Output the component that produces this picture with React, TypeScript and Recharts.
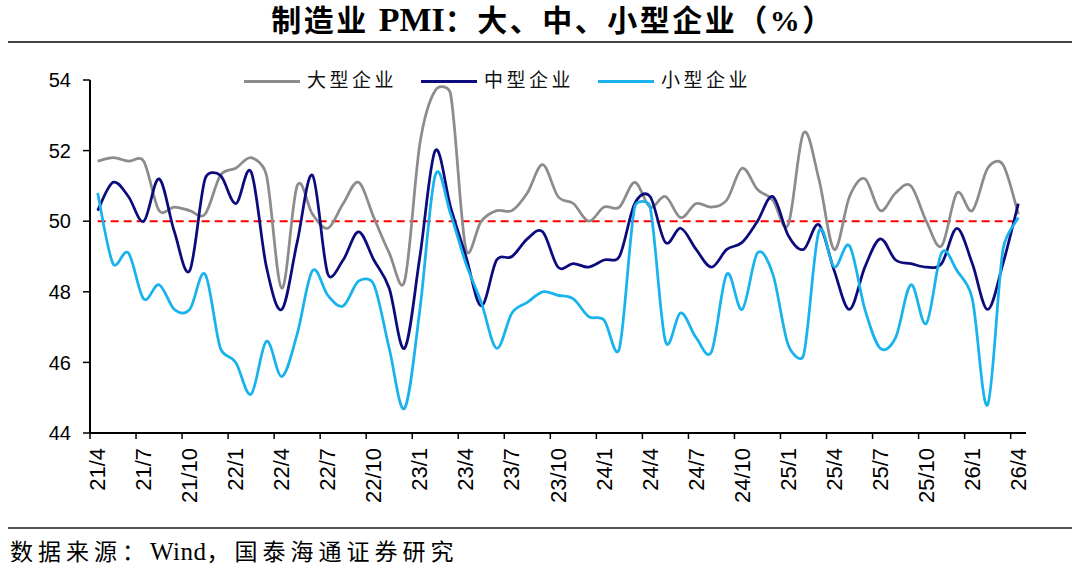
import React from "react";
import { LineChart, Line, XAxis, YAxis, ReferenceLine } from "recharts";

// 月份 21/4 ~ 26/4
const months = [
  "21/4", "21/5", "21/6", "21/7", "21/8", "21/9", "21/10", "21/11", "21/12",
  "22/1", "22/2", "22/3", "22/4", "22/5", "22/6", "22/7", "22/8", "22/9", "22/10", "22/11", "22/12",
  "23/1", "23/2", "23/3", "23/4", "23/5", "23/6", "23/7", "23/8", "23/9", "23/10", "23/11", "23/12",
  "24/1", "24/2", "24/3", "24/4", "24/5", "24/6", "24/7", "24/8", "24/9", "24/10", "24/11", "24/12",
  "25/1", "25/2", "25/3", "25/4", "25/5", "25/6", "25/7", "25/8", "25/9", "25/10", "25/11", "25/12",
  "26/1", "26/2", "26/3", "26/4",
];

const large = [
  51.7, 51.8, 51.7, 51.7, 50.3, 50.4, 50.3, 50.2, 51.3,
  51.5, 51.8, 51.3, 48.1, 51.0, 50.2, 49.8, 50.5, 51.1, 50.1, 49.1, 48.3,
  52.2, 53.7, 53.6, 49.2, 50.0, 50.3, 50.3, 50.8, 51.6, 50.7, 50.5, 50.0,
  50.4, 50.4, 51.1, 50.4, 50.7, 50.1, 50.5, 50.4, 50.6, 51.5, 50.9, 50.6,
  49.9, 52.5, 51.2, 49.2, 50.7, 51.2, 50.3, 50.8, 51.0, 50.0, 49.3, 50.8,
  50.3, 51.5, 51.6, 50.2,
];

const medium = [
  50.3, 51.1, 50.7, 50.0, 51.2, 49.7, 48.6, 51.2, 51.3,
  50.5, 51.4, 48.7, 47.5, 49.4, 51.3, 48.5, 48.9, 49.7, 48.9, 48.1, 46.4,
  49.0, 52.0, 50.4, 49.0, 47.6, 48.9, 49.0, 49.5, 49.7, 48.7, 48.8, 48.7,
  48.9, 49.0, 50.5, 50.7, 49.4, 49.8, 49.2, 48.7, 49.2, 49.4, 50.0, 50.7,
  49.6, 49.2, 49.9, 48.6, 47.5, 48.7, 49.5, 48.9, 48.8, 48.7, 48.8, 49.8,
  48.8, 47.5, 48.8, 50.5,
];

const small = [
  50.8, 48.8, 49.1, 47.8, 48.2, 47.5, 47.5, 48.5, 46.4,
  46.0, 45.1, 46.6, 45.6, 46.8, 48.6, 47.9, 47.6, 48.3, 48.2, 46.4, 44.7,
  47.5, 51.3, 50.2, 48.8, 47.7, 46.4, 47.4, 47.7, 48.0, 47.9, 47.8, 47.3,
  47.2, 46.4, 50.4, 50.4, 46.6, 47.4, 46.7, 46.3, 48.5, 47.5, 49.1, 48.5,
  46.5, 46.2, 49.7, 48.7, 49.3, 47.5, 46.4, 46.7, 48.2, 47.1, 49.1, 48.6,
  47.8, 44.8, 49.2, 50.1,
];

const yTicks = [44, 46, 48, 50, 52, 54];

const series = [
  { key: "large", name: "大型企业", color: "#8c8c8c" },
  { key: "medium", name: "中型企业", color: "#0b0b7d" },
  { key: "small", name: "小型企业", color: "#18b2ec" },
];

const data = months.map((m, i) => ({
  month: m,
  large: large[i],
  medium: medium[i],
  small: small[i],
}));

const W = 1080;
const H = 572;
const PLOT_LEFT = 90;
const PLOT_RIGHT = 1026;
const PLOT_TOP = 80;
const PLOT_BOTTOM = 433;
const STEP = (PLOT_RIGHT - PLOT_LEFT) / months.length;
const HALF = STEP / 2;

const CJK = "'Liberation Serif', 'Noto Sans CJK SC', serif";
const SANS = "'Liberation Sans', Arial, sans-serif";

// Excel 风格平滑线：控制柄长度不超过半段长度
const smoothCurve = (context: any) => {
  let pts: number[][] = [];
  const handle = (a: number[], b: number[], limit: number) => {
    let dx = (b[0] - a[0]) / 6;
    let dy = (b[1] - a[1]) / 6;
    const len = Math.hypot(dx, dy);
    if (len > limit && len > 0) {
      dx *= limit / len;
      dy *= limit / len;
    }
    return [dx, dy];
  };
  return {
    areaStart() {},
    areaEnd() {},
    lineStart() {
      pts = [];
    },
    point(x: number, y: number) {
      pts.push([+x, +y]);
    },
    lineEnd() {
      if (!pts.length) return;
      context.moveTo(pts[0][0], pts[0][1]);
      for (let i = 0; i < pts.length - 1; i++) {
        const p0 = pts[Math.max(i - 1, 0)];
        const p1 = pts[i];
        const p2 = pts[i + 1];
        const p3 = pts[Math.min(i + 2, pts.length - 1)];
        const half = Math.hypot(p2[0] - p1[0], p2[1] - p1[1]) / 2;
        const h1 = handle(p0, p2, half);
        const h2 = handle(p1, p3, half);
        context.bezierCurveTo(p1[0] + h1[0], p1[1] + h1[1], p2[0] - h2[0], p2[1] - h2[1], p2[0], p2[1]);
      }
    },
  };
};

const MonthTick = (props: any) => {
  const { x, y, payload } = props;
  return (
    <g>
      <line x1={x - HALF} x2={x - HALF} y1={y - 15} y2={y - 9} stroke="#000" strokeWidth={1.5} />
      <text
        x={x}
        y={y}
        transform={`rotate(-90 ${x} ${y})`}
        textAnchor="end"
        dominantBaseline="central"
        fontSize={22}
        fontFamily={SANS}
        fill="#000"
      >
        {payload.value}
      </text>
    </g>
  );
};

export default function App() {
  return (
    <div style={{ position: "absolute", left: 0, top: 0, width: W, height: H, background: "#fff", overflow: "hidden" }}>
      <div
        style={{
          position: "absolute",
          top: 3,
          left: 13,
          width: W,
          textAlign: "center",
          fontFamily: CJK,
          fontWeight: "bold",
          fontSize: 30,
          lineHeight: "34px",
          letterSpacing: 2.5,
          color: "#000",
        }}
      >
        制造业 <span style={{ fontSize: 34, letterSpacing: 0 }}>PMI</span>：大、中、小型企业（%）
      </div>
      <div style={{ position: "absolute", top: 41, left: 8, width: 1064, height: 2, background: "#444" }} />

      <LineChart
        width={W}
        height={H}
        data={data}
        margin={{ top: PLOT_TOP, right: W - PLOT_RIGHT, bottom: 0, left: 0 }}
        style={{ position: "absolute", left: 0, top: 0 }}
      >
        <XAxis
          dataKey="month"
          interval={2}
          height={H - PLOT_BOTTOM}
          padding={{ left: HALF, right: HALF }}
          tickLine={false}
          tickSize={6}
          tickMargin={9}
          axisLine={{ stroke: "#000", strokeWidth: 2 }}
          tick={<MonthTick />}
        />
        <YAxis
          width={PLOT_LEFT}
          domain={[44, 54]}
          ticks={yTicks}
          interval={0}
          tickSize={7}
          tickMargin={12}
          axisLine={{ stroke: "#000", strokeWidth: 2 }}
          tickLine={{ stroke: "#000", strokeWidth: 1.5 }}
          tick={{ fontSize: 20, fontFamily: SANS, fill: "#000" }}
        />
        <ReferenceLine
          segment={[
            { x: months[0], y: 50 },
            { x: months[months.length - 1], y: 50 },
          ]}
          stroke="#ff0000"
          strokeWidth={2}
          strokeDasharray="8 5"
        />
        {series.map((s) => (
          <Line
            key={s.key}
            dataKey={s.key}
            name={s.name}
            type={smoothCurve as any}
            stroke={s.color}
            strokeWidth={2.75}
            dot={false}
            activeDot={false}
            isAnimationActive={false}
          />
        ))}
      </LineChart>

      <div style={{ position: "absolute", top: 68, left: 244, display: "flex", alignItems: "center", gap: 24 }}>
        {series.map((s) => (
          <div key={s.key} style={{ display: "flex", alignItems: "center", gap: 7 }}>
            <div style={{ width: 56, height: 3, background: s.color }} />
            <span style={{ fontFamily: CJK, fontSize: 19, letterSpacing: 3.5, lineHeight: "26px", color: "#111" }}>
              {s.name}
            </span>
          </div>
        ))}
      </div>

      <div style={{ position: "absolute", top: 527, left: 8, width: 1064, height: 1.5, background: "#555" }} />
      <div
        style={{
          position: "absolute",
          top: 538,
          left: 10,
          fontFamily: CJK,
          fontSize: 23,
          lineHeight: "28px",
          letterSpacing: 5,
          color: "#000",
          whiteSpace: "nowrap",
        }}
      >
        数据来源：<span style={{ letterSpacing: 0.5, fontSize: 25 }}>Wind</span>，国泰海通证券研究
      </div>
    </div>
  );
}
